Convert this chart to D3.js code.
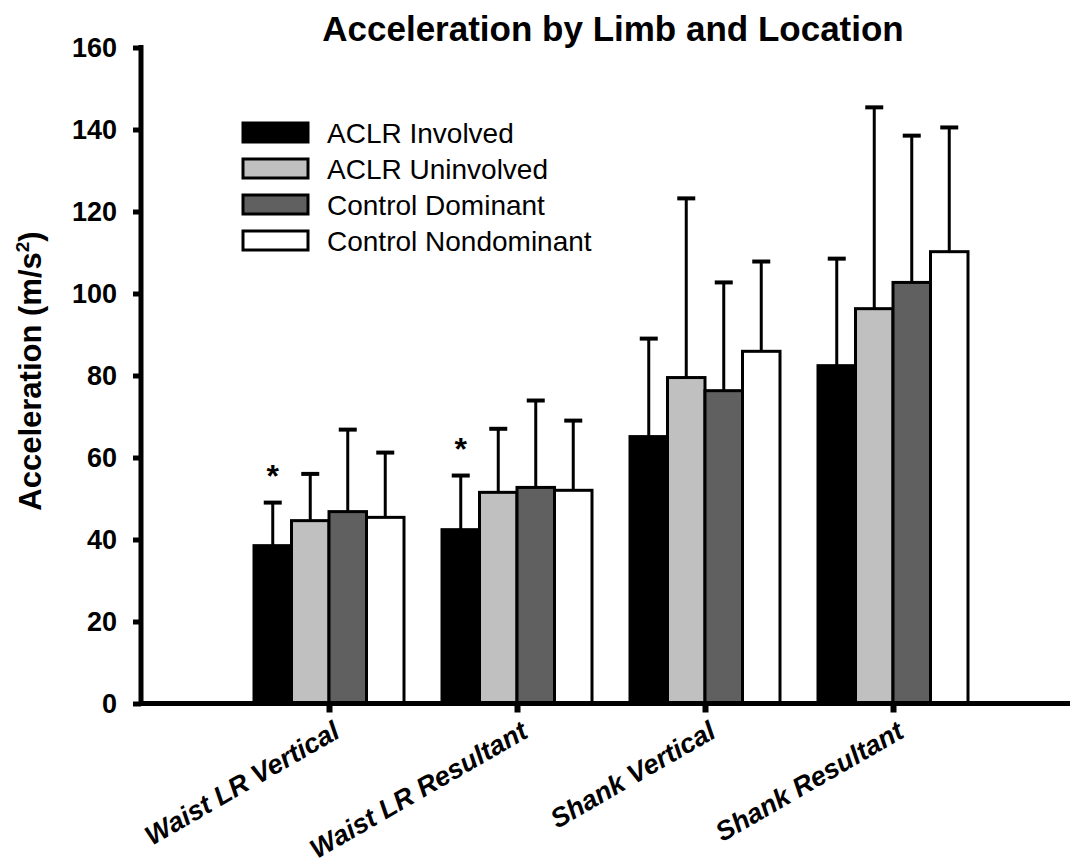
<!DOCTYPE html>
<meta charset="utf-8">
<script src="https://d3js.org/d3.v7.min.js"></script>
<style>
  body { margin: 0; background: #fff; }
  text { font-family: "Liberation Sans", Arial, sans-serif; }
</style>
<div id="chart"></div>
<script>

// categories and series
var categories = ["Waist LR Vertical", "Waist LR Resultant", "Shank Vertical", "Shank Resultant"];
var seriesNames = ["ACLR Involved", "ACLR Uninvolved", "Control Dominant", "Control Nondominant"];
var seriesColors = ["#000000", "#c0c0c0", "#606060", "#ffffff"];

// means per series, one value per category
var aclrInvolved     = [38.5, 42.4, 65.1, 82.4];
var aclrUninvolved   = [44.6, 51.5, 79.5, 96.3];
var controlDominant  = [46.8, 52.7, 76.3, 102.7];
var controlNondom    = [45.4, 52.0, 85.9, 110.2];

// standard deviations (upper error bar)
var aclrInvolvedSD    = [10.5, 13.2, 23.9, 26.1];
var aclrUninvolvedSD  = [11.4, 15.5, 43.7, 49.1];
var controlDominantSD = [20.0, 21.2, 26.4, 35.8];
var controlNondomSD   = [15.8, 17.0, 21.9, 30.3];

// categories flagged with a significance star (on ACLR Involved)
var starred = ["Waist LR Vertical", "Waist LR Resultant"];

var yTicks = [0, 20, 40, 60, 80, 100, 120, 140, 160];

var means = [aclrInvolved, aclrUninvolved, controlDominant, controlNondom];
var sds = [aclrInvolvedSD, aclrUninvolvedSD, controlDominantSD, controlNondomSD];

var data = [];
categories.forEach(function(c, ci) {
  seriesNames.forEach(function(s, si) {
    data.push({cat: c, ci: ci, series: s, si: si, value: means[si][ci], sd: sds[si][ci]});
  });
});

var width = 1070, height = 867;

var svg = d3.select("#chart")
  .append("svg")
    .attr("width", width)
    .attr("height", height);

// x: category positions 1..4
var x = d3.scaleLinear()
  .domain([0, 5])
  .range([141, 1081]);

var sub = d3.scaleBand()
  .domain(seriesNames)
  .range([-75, 75])
  .padding(0);

var y = d3.scaleLinear()
  .domain([0, 160])
  .range([703.5, 47.5]);

// bars
svg.append("g")
  .selectAll("rect")
  .data(data)
  .enter()
  .append("rect")
    .attr("x", function(d) { return x(d.ci + 1) + sub(d.series); })
    .attr("y", function(d) { return y(d.value); })
    .attr("width", sub.bandwidth())
    .attr("height", function(d) { return y(0) - y(d.value); })
    .attr("fill", function(d) { return seriesColors[d.si]; })
    .attr("stroke", "#000")
    .attr("stroke-width", 3);

// error bars
var err = svg.append("g");
err.selectAll(".stem")
  .data(data)
  .enter()
  .append("line")
    .attr("x1", function(d) { return x(d.ci + 1) + sub(d.series) + sub.bandwidth() / 2; })
    .attr("x2", function(d) { return x(d.ci + 1) + sub(d.series) + sub.bandwidth() / 2; })
    .attr("y1", function(d) { return y(d.value); })
    .attr("y2", function(d) { return y(d.value + d.sd); })
    .attr("stroke", "#000")
    .attr("stroke-width", 3);
err.selectAll(".cap")
  .data(data)
  .enter()
  .append("line")
    .attr("x1", function(d) { return x(d.ci + 1) + sub(d.series) + sub.bandwidth() / 2 - 9; })
    .attr("x2", function(d) { return x(d.ci + 1) + sub(d.series) + sub.bandwidth() / 2 + 9; })
    .attr("y1", function(d) { return y(d.value + d.sd); })
    .attr("y2", function(d) { return y(d.value + d.sd); })
    .attr("stroke", "#000")
    .attr("stroke-width", 4);

// significance stars
svg.append("g")
  .selectAll("text")
  .data(data.filter(function(d) { return d.si === 0 && starred.indexOf(d.cat) >= 0; }))
  .enter()
  .append("text")
    .attr("x", function(d) { return x(d.ci + 1) + sub(d.series) + sub.bandwidth() / 2; })
    .attr("y", function(d) { return y(d.value + d.sd) - 16; })
    .attr("text-anchor", "middle")
    .style("font-size", "32px")
    .style("font-weight", "bold")
    .text("*");

// y axis
var yAxis = svg.append("g")
  .attr("transform", "translate(141,0)")
  .call(d3.axisLeft(y).tickValues(yTicks).tickSize(8).tickPadding(16));
yAxis.select(".domain").remove();
yAxis.append("line")
  .attr("x1", 0).attr("x2", 0)
  .attr("y1", y(160) - 2.5).attr("y2", y(0))
  .attr("stroke", "#000").attr("stroke-width", 5);
yAxis.selectAll(".tick line").attr("stroke-width", 5);
yAxis.selectAll(".tick text")
  .attr("fill", "#000")
  .style("font-family", "'Liberation Sans', Arial, sans-serif")
  .style("font-size", "27px")
  .style("font-weight", "bold");

// x axis
var xAxis = svg.append("g")
  .attr("transform", "translate(0," + y(0) + ")")
  .call(d3.axisBottom(x).tickValues([1, 2, 3, 4]).tickSize(9)
    .tickFormat(function(d) { return categories[d - 1]; }));
xAxis.select(".domain").remove();
xAxis.append("line")
  .attr("x1", 139).attr("x2", width)
  .attr("y1", 0).attr("y2", 0)
  .attr("stroke", "#000").attr("stroke-width", 5);
xAxis.selectAll(".tick line").attr("stroke-width", 6);
xAxis.selectAll(".tick text")
  .attr("fill", "#000")
  .attr("text-anchor", "end")
  .attr("x", 0).attr("y", 0).attr("dy", 0)
  .attr("transform", "translate(12,33) rotate(-30)")
  .style("font-family", "'Liberation Sans', Arial, sans-serif")
  .style("font-size", "27px")
  .style("font-weight", "bold")
  .style("font-style", "italic");

// title
svg.append("text")
  .attr("x", 613)
  .attr("y", 41)
  .attr("text-anchor", "middle")
  .style("font-size", "35px")
  .style("font-weight", "bold")
  .text("Acceleration by Limb and Location");

// y label
var yl = svg.append("text")
  .attr("transform", "translate(41,371) rotate(-90)")
  .attr("text-anchor", "middle")
  .style("font-size", "31px")
  .style("font-weight", "bold");
yl.append("tspan").text("Acceleration (m/s");
yl.append("tspan").attr("dy", -12).style("font-size", "19px").text("2");
yl.append("tspan").attr("dy", 12).text(")");

// legend
var legend = svg.append("g")
  .selectAll("g")
  .data(seriesNames)
  .enter()
  .append("g")
    .attr("transform", function(d, i) { return "translate(243," + (123 + i * 36) + ")"; });
legend.append("rect")
  .attr("width", 65)
  .attr("height", 19)
  .attr("fill", function(d, i) { return seriesColors[i]; })
  .attr("stroke", "#000")
  .attr("stroke-width", 3);
legend.append("text")
  .attr("x", 84)
  .attr("y", 10)
  .attr("dy", "0.35em")
  .style("font-size", "28px")
  .text(function(d) { return d; });

</script>
